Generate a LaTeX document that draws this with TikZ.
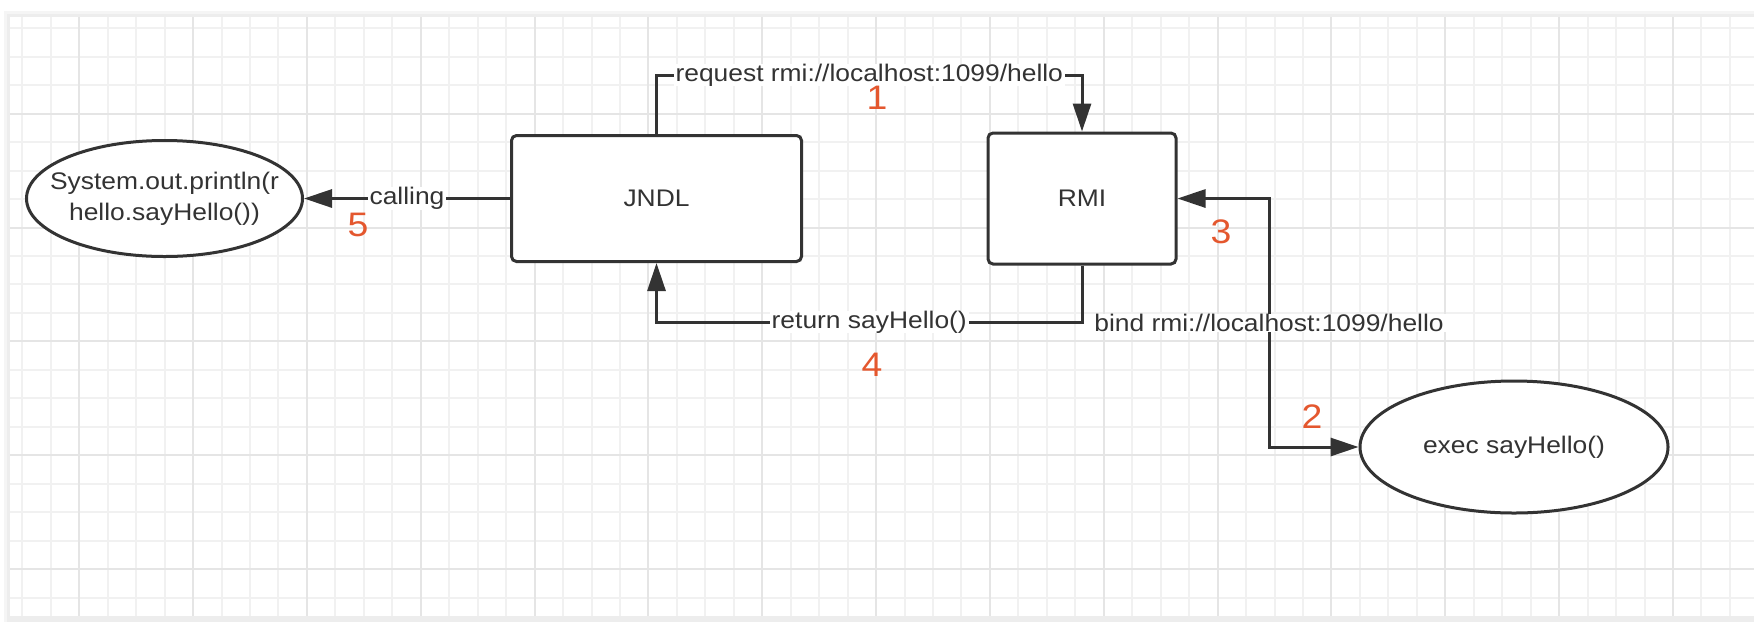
\documentclass[tikz,border=0pt]{standalone}
\usepackage{fontspec}
\setmainfont{Liberation Sans}[FakeStretch=1.1]
\usepackage{tikz}
\usetikzlibrary{shapes.geometric,arrows.meta}

\definecolor{ink}{HTML}{333333}
\definecolor{stepred}{HTML}{E4572E}
\definecolor{minorgrid}{HTML}{F1F1F1}
\definecolor{majorgrid}{HTML}{E5E5E5}

\begin{document}
\begin{tikzpicture}[
  x=0.5pt,y=-0.5pt,
  >={Triangle[length=14pt,width=9pt]},
  font=\fontsize{12}{15.5}\selectfont,
  box/.style={rectangle,rounded corners=2.5pt,draw=ink,line width=1.5pt,fill=white,text=ink,minimum width=145pt,minimum height=63pt},
  oval/.style={ellipse,draw=ink,line width=1.5pt,fill=white,text=ink,inner sep=0pt,align=center},
  flow/.style={draw=ink,line width=1.5pt},
  lbl/.style={fill=white,text=ink,inner xsep=1pt,inner ysep=0pt},
  num/.style={text=stepred,inner sep=0pt,font=\fontsize{17}{20}\selectfont},
]
\useasboundingbox (0,0) rectangle (1754,622);

% paper and grid
\fill[white] (0,0) rectangle (1754,622);
\fill[black!4] (4,11) rectangle (1754,622);
\fill[black!7] (7,14) rectangle (1754,622);
\fill[white] (10,17) rectangle (1754,616);
\foreach \k in {0,...,60}
  \draw[minorgrid,line width=1pt] ({22.3+28.46*\k},17) -- ({22.3+28.46*\k},616);
\foreach \k in {0,...,20}
  \draw[minorgrid,line width=1pt] (10,{28.3+28.46*\k}) -- (1754,{28.3+28.46*\k});
\foreach \k in {2,6,...,58}
  \draw[majorgrid,line width=1pt] ({22.3+28.46*\k},17) -- ({22.3+28.46*\k},616);
\foreach \k in {3,7,...,19}
  \draw[majorgrid,line width=1pt] (10,{28.3+28.46*\k}) -- (1754,{28.3+28.46*\k});

% shapes
\node[oval,minimum width=138pt,minimum height=58pt,
  label={[text=ink,align=center]center:System.out.println(r\\hello.sayHello())}] (printout) at (164.5,198.5) {};
\node[box] (jndl) at (656.5,198.5) {JNDL};
\node[box,minimum width=94pt,minimum height=65.5pt] (rmi) at (1082,198.5) {RMI};
\node[oval,minimum width=154pt,minimum height=66pt] (exec) at (1514,447) {exec sayHello()};

\coordinate (toprow) at (0,75);
\coordinate (botrow) at (0,322);
\coordinate (bindcol) at (1269,0);

% connectors
\draw[flow,->] (jndl.north) -- (jndl.north |- toprow)
  -- node[lbl] {request rmi://localhost:1099/hello} (rmi.north |- toprow) -- (rmi.north);
\draw[flow,->] (rmi.south) -- (rmi.south |- botrow)
  -- node[lbl] {return sayHello()} (jndl.south |- botrow) -- (jndl.south);
\draw[flow,<->] (rmi.east) -- (rmi.east -| bindcol)
  -- node[lbl] {bind rmi://localhost:1099/hello} (bindcol |- exec.west) -- (exec.west);
\draw[flow,->] (jndl.west) -- node[lbl] {calling} (printout.east);

% step numbers
\node[num] (step1) at (877,98) {1};
\node[num] (step2) at (1312,417) {2};
\node[num] (step3) at (1221,232) {3};
\node[num] (step4) at (872,365) {4};
\node[num] (step5) at (358,225) {5};
\end{tikzpicture}
\end{document}
